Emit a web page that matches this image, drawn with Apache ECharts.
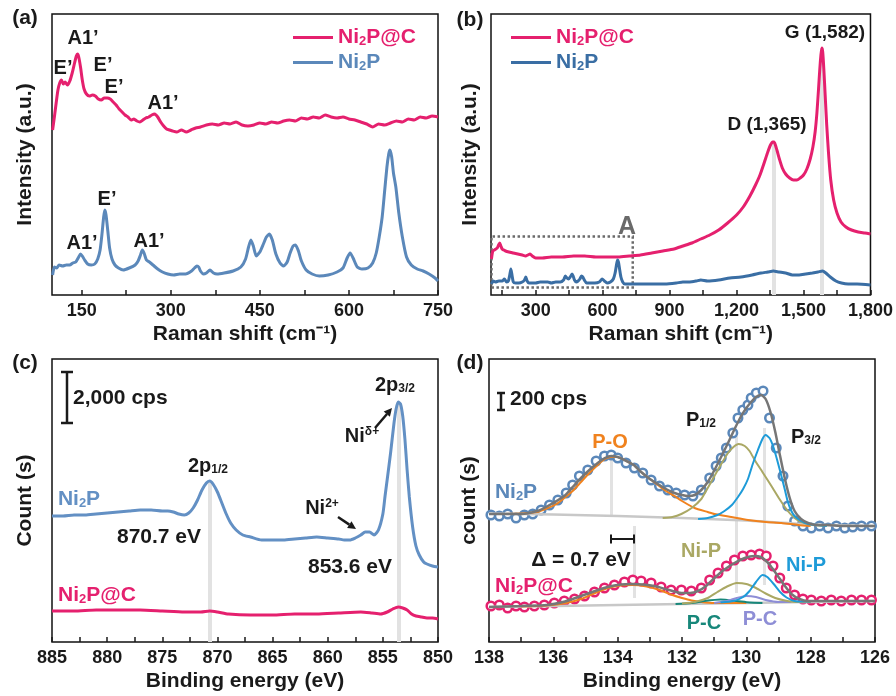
<!DOCTYPE html>
<html>
<head>
<meta charset="utf-8">
<script src="https://cdn.jsdelivr.net/npm/echarts@6/dist/echarts.min.js"></script>
<style>
  html, body { margin: 0; padding: 0; background: #fff; }
  #chart { width: 896px; height: 696px; }
</style>
</head>
<body>
<div id="chart"></div>
<script>
// ---- (a) Raman, 100-750 cm-1 ----
var aPcX = [101,104,107,110,113,116,119,122,126,130,134,138,141,143,145,148,151,154,158,163,168,173,178,183,188,193,198,203,208,213,218,223,228,233,238,243,248,253,258,263,268,273,278,283,288,293,298,303,310,318,326,334,342,350,360,370,380,390,400,410,420,430,440,450,460,470,480,490,500,510,520,530,540,550,560,570,580,590,600,610,620,630,640,650,660,670,680,690,700,710,720,730,740,750];
var aPcY = [165,178,192,205,212,215,211,213,210,214,222,232,239,241,238,228,215,206,201,199,200,199,196,195,197,197,196,193,190,186,183,180,178,175,176,174,173,175,177,178,180,181,178,173,169,166,165,164,163,165,163,165,167,168,170,171,170,172,171,173,170,169,170,172,171,173,172,174,175,174,177,176,178,177,180,178,177,178,176,175,173,171,168,171,170,172,174,173,176,175,178,177,179,178];
var aNpX = [101,104,108,112,118,124,130,135,140,145,148,151,155,160,166,172,177,181,184,187,189,191,194,197,201,206,212,220,230,240,245,249,252,255,259,264,270,278,286,295,305,315,325,335,340,344,347,350,355,360,366,372,378,390,405,418,426,431,435,439,444,450,456,461,466,471,477,484,490,496,501,506,510,515,520,528,538,550,565,580,590,597,602,607,614,622,632,640,646,651,656,660,664,667,669,672,675,679,684,690,697,705,715,725,735,745,750];
var aNpY = [20,28,27,30,29,30,30,32,33,38,41,39,35,31,30,31,36,45,60,78,85,80,64,47,36,30,27,25,27,30,34,40,45,42,35,33,30,26,23,21,20,21,21,24,27,29,28,24,21,22,25,22,21,22,24,28,36,48,55,49,39,43,51,58,61,55,41,32,29,33,42,49,50,44,34,25,21,19,20,23,27,37,42,37,28,26,27,32,42,58,78,103,128,141,145,138,122,108,82,58,38,30,26,24,21,17,14];
var aTicks = [150,225,300,375,450,525,600,675,750];
var aLabels = [150,300,450,600,750];

// ---- (b) Raman, 100-1800 cm-1 ----
var bPcX = [102,108,115,122,128,134,139,144,150,157,165,180,200,220,240,255,265,275,285,300,330,370,420,470,520,570,620,670,720,770,820,870,920,960,1000,1040,1080,1120,1160,1200,1230,1260,1285,1305,1325,1340,1352,1362,1368,1374,1382,1392,1405,1420,1438,1455,1470,1485,1500,1515,1530,1542,1552,1560,1567,1573,1578,1582,1586,1591,1597,1604,1612,1622,1635,1650,1668,1690,1715,1745,1775,1800];
var bPcY = [36,44,45,46,47,50,52,49,46,45,44,43,42,41,40,39,40,41,39,37,37,38,38,39,39,38,38,38,39,40,42,44,46,49,52,56,60,65,72,80,88,99,110,120,133,143,150,153,153,150,144,136,127,121,117,115,115,117,120,126,136,148,163,182,205,226,240,247,243,226,200,170,142,115,95,82,73,68,65,63,62,61];
var bNpX = [102,110,120,135,150,160,170,178,184,189,194,200,210,225,240,250,256,262,270,285,300,320,340,355,370,390,410,425,433,440,447,455,463,468,474,482,490,498,505,511,518,528,545,565,585,598,608,620,635,648,656,662,667,671,676,682,690,700,715,740,780,830,880,930,960,990,1020,1040,1070,1120,1170,1220,1270,1310,1340,1365,1390,1420,1450,1480,1510,1540,1565,1585,1600,1620,1645,1670,1700,1740,1800];
var bNpY = [11,14,13,14,14,16,13,14,20,26,20,13,12,12,13,15,18,14,12,12,12,13,13,13,12,13,13,15,19,17,16,18,21,19,15,13,14,16,19,18,15,12,12,12,13,16,14,12,13,16,22,30,35,33,26,18,13,11,11,11,11,11,11,12,13,13,14,15,14,15,17,18,20,22,23,24,23,22,20,20,21,22,23,24,22,18,14,12,11,11,10];
var bPeaks = [[1365, 153], [1582, 247]];
var bBoxA = [[102, 7.5], [735, 58.5]];
var bTicks = [150,300,450,600,750,900,1050,1200,1350,1500,1650,1800];
var bLabels = [300,600,900,1200,1500,1800];

// ---- (c) Ni 2p XPS ----
var cNpX = [885,884,883,882,881,880,879,878,877,876,875,874.5,874,873.5,873,872.6,872.2,871.8,871.4,871.0,870.7,870.4,870.0,869.6,869.2,868.8,868.3,867.7,867,866,865,864,863,862,861,860,859,858.5,858,857.5,857,856.6,856.2,855.8,855.4,855.0,854.8,854.6,854.3,854.0,853.8,853.6,853.4,853.2,853.0,852.8,852.6,852.3,852.0,851.7,851.3,851,850.5,850];
var cNpY = [126,126,127,127,128,129,130,131,132,132,131,131,130,128,127,129,134,142,152,159,161,158,150,139,128,119,112,107,105,102,102,102,103,104,105,104,103,102,102,104,107,110,110,107,112,128,146,163,189,218,233,240,238,226,203,172,145,115,96,87,80,78,76,75];
var cPcX = [885,883,881,879,877,875,873,871.5,870.7,870,869,867,865,863,861,859,857,856,855.2,854.6,854.1,853.6,853.2,852.8,852.4,852,851.5,851,850.5,850];
var cPcY = [31,31,32,32,32,31,30,30,31,30,28,27,27,28,28,29,30,29,28,30,33,35,34,32,28,26,25,24,24,23];
var cPeaks = [[870.7, 161], [853.6, 240]];
var cTicks = [850,852.5,855,857.5,860,862.5,865,867.5,870,872.5,875,877.5,880,882.5,885];
var cLabels = [850,855,860,865,870,875,880,885];

// ---- (d) P 2p XPS, Ni2P ----
var dNpX = [137.94,137.68,137.42,137.16,136.90,136.64,136.38,136.12,135.86,135.60,135.40,135.19,134.93,134.67,134.41,134.20,134.00,133.74,133.48,133.22,132.96,132.70,132.44,132.18,131.92,131.66,131.40,131.14,130.94,130.78,130.62,130.42,130.26,130.11,129.95,129.85,129.69,129.48,129.28,129.07,128.86,128.71,128.50,128.24,127.98,127.72,127.46,127.20,126.94,126.69,126.42,126.11];
var dNpY = [127,126,128,124,127,128,132,137,142,149,157,166,172,181,186,187,184,179,174,169,162,156,152,149,147,146,152,164,176,184,194,209,224,232,237,244,249,251,224,194,166,136,121,116,114,116,114,116,114,115,116,116];
var dNpFitX = [138.0,137.0,136.5,136.17,135.66,135.4,135.14,134.88,134.62,134.4,134.2,134.0,133.79,133.5,133.27,133.0,132.75,132.5,132.23,132.0,131.82,131.6,131.4,131.2,130.99,130.8,130.57,130.35,130.16,130.0,129.85,129.7,129.54,129.4,129.25,129.1,128.95,128.8,128.65,128.5,128.3,128.08,127.8,127.5,127.0,126.5,126.0];
var dNpFitY = [128,128,131,136,146,155,164,172,179,184,186,185,182,177,170,163,158,153,149,147,146,147,152,160,172,184,199,214,226,234,240,245,247,243,230,210,186,163,144,131,123,119,117,117,116,116,116];
var dNpPoX = [137.5,137.0,136.5,136.17,135.9,135.66,135.4,135.14,134.88,134.62,134.4,134.2,134.0,133.79,133.5,133.27,133.0,132.75,132.5,132.23,132.0,131.61,131.2,130.99,130.47,129.95,129.4,128.91,128.39,128.0];
var dNpPoY = [128,128.5,130,134,138,144,151,160,169,177,183,185,185,182,177,170,163,157,151,146,141,134,130,128,125,122,120,119,117,116];
var dNpHalfX = [132.6,132.3,132.02,131.7,131.4,131.2,130.99,130.78,130.57,130.4,130.24,130.05,129.9,129.74,129.5,129.22,128.97,128.71,128.5,128.29,127.9,127.5];
var dNpHalfY = [124,125,128,134,143,154,166,178,189,195,198,196,191,182,170,156,143,131,124,120,117,116];
var dNpThreeX = [131.5,131.2,130.9,130.68,130.45,130.26,130.1,129.95,129.8,129.64,129.5,129.4,129.28,129.17,129.05,128.91,128.8,128.71,128.6,128.5,128.3,128.08,127.8,127.5];
var dNpThreeY = [123,124,127,131,137,145,153,163,178,192,203,207,204,196,183,166,152,140,131,126,121,118,117,116];
var dNpBgX = [138,136,134,132,130,128,126];
var dNpBgY = [128.5,127.5,126,124,121.5,117.5,116];

// ---- (d) P 2p XPS, Ni2P@C ----
var dPcX = [137.94,137.68,137.42,137.16,136.90,136.59,136.28,135.97,135.66,135.34,135.03,134.72,134.41,134.10,133.79,133.53,133.27,132.96,132.65,132.34,132.02,131.71,131.40,131.14,130.88,130.62,130.37,130.11,129.85,129.59,129.38,129.17,128.96,128.76,128.50,128.24,127.98,127.67,127.36,127.05,126.73,126.42,126.11];
var dPcY = [36,37,34,36,35,36,37,39,41,43,46,50,54,57,60,62,61,59,55,52,52,51,54,62,69,76,82,86,87,88,86,76,64,54,47,43,42,41,42,41,42,42,42];
var dPcFitX = [138.0,137.0,136.2,135.7,135.14,134.7,134.31,133.9,133.58,133.2,132.86,132.4,132.02,131.75,131.5,131.25,130.99,130.7,130.37,130.05,129.75,129.55,129.35,129.2,129.02,128.8,128.6,128.35,128.08,127.5,126.0];
var dPcFitY = [35,36,37,40,46,51,55,57.5,58,57.5,56,52,49,49,51,56,64,72,79,84,86,85,80,74,66,56,48,43,41,41,41];
var dPcPoX = [137.0,136.2,135.6,135.14,134.7,134.3,133.9,133.53,133.1,132.7,132.3,132.0,131.7,131.4,131.0,130.5,130.0];
var dPcPoY = [35.5,36.5,39,43,49,54,56.5,57,55.5,52,47,44,41.5,40,39,39,39];
var dPcHalfX = [132.0,131.6,131.2,130.9,130.6,130.3,130.0,129.7,129.4,129.1,128.8,128.4,128.0];
var dPcHalfY = [38.5,40,44,50,55.5,59,58,54,48.5,44,41.5,40,40];
var dPcThreeX = [130.8,130.4,130.1,129.9,129.7,129.5,129.35,129.15,128.95,128.75,128.5,128.2,128.0];
var dPcThreeY = [39.5,41,45,51,60,67,65,58,50,44.5,41,40.5,40.5];
var dPcPc1X = [132.2,131.7,131.3,130.8,130.3,129.9,129.5];
var dPcPc1Y = [38,39,41,42.5,41,39.5,39];
var dPcPc2X = [131.0,130.6,130.3,130.0,129.7,129.4,129.0,128.6];
var dPcPc2Y = [39,41,44,46,45,42,40,40];
var dPcBgX = [138,134,130,126];
var dPcBgY = [35,37,39,41];
var dRefs = [[134.2, 127, 182], [133.5, 44, 116], [130.3, 49, 206], [129.45, 57, 214]];
var dTicks = [126,127,128,129,130,131,132,133,134,135,136,137,138];
var dLabels = [126,128,130,132,134,136,138];

var FONT = 'Liberation Sans';
var INK = '#1a1a1a';
var PINK = '#e5206e';
var BLUE_A = '#5b88ba';
var BLUE_B = '#3a6ea4';
var BLUE_C = '#6390c4';
var ORANGE = '#f0821e';
var OLIVE = '#aaa864';
var SKY = '#1e9bd8';
var TEAL = '#17877a';
var LAVENDER = '#8e8ed6';

function zip(xs, ys) {
    return xs.map(function (x, i) { return [x, ys[i]]; });
}

function richSet(size) {
    var small = Math.round(size * 0.62);
    return {
        s: { fontSize: small, fontWeight: 'bold', fontFamily: FONT, verticalAlign: 'bottom' },
        u: { fontSize: small, fontWeight: 'bold', fontFamily: FONT, verticalAlign: 'top' }
    };
}

function txt(x, y, text, color, size, align) {
    size = size || 20;
    return {
        type: 'text', x: x, y: y, z: 100, silent: true,
        style: {
            text: text, fill: color || INK, fontSize: size, fontWeight: 'bold', fontFamily: FONT,
            align: align || 'center', verticalAlign: 'middle', rich: richSet(size)
        }
    };
}

function seg(points, width) {
    return { type: 'polyline', z: 100, silent: true, shape: { points: points }, style: { stroke: INK, lineWidth: width || 2.5, fill: null } };
}

function head(points) {
    return { type: 'polygon', z: 100, silent: true, shape: { points: points }, style: { fill: INK } };
}

function xAxisOf(idx, min, max, ticks, labels, name, inverse, fmt) {
    return {
        type: 'value', gridIndex: idx, min: min, max: max, inverse: !!inverse,
        name: name, nameLocation: 'middle', nameGap: 29,
        nameTextStyle: { fontFamily: FONT, fontWeight: 'bold', fontSize: 21, color: INK },
        axisLine: { show: false },
        splitLine: { show: false },
        axisTick: { show: true, inside: true, length: 5, customValues: ticks, lineStyle: { color: INK, width: 1.5 } },
        axisLabel: { show: true, customValues: labels, margin: 7, fontFamily: FONT, fontWeight: 'bold', fontSize: 18, color: INK, formatter: fmt }
    };
}

function yAxisOf(idx, max, name, gap) {
    return {
        type: 'value', gridIndex: idx, min: 0, max: max,
        name: name, nameLocation: 'middle', nameGap: gap, nameRotate: 90,
        nameTextStyle: { fontFamily: FONT, fontWeight: 'bold', fontSize: 21, color: INK },
        axisLine: { show: false }, axisTick: { show: false }, axisLabel: { show: false }, splitLine: { show: false }
    };
}

function curve(name, idx, xs, ys, color, width, z) {
    return {
        name: name, type: 'line', xAxisIndex: idx, yAxisIndex: idx, data: zip(xs, ys),
        showSymbol: false, smooth: 0.2, z: z || 3,
        lineStyle: { color: color, width: width || 3 }, itemStyle: { color: color }
    };
}

// light grey guide lines, kept behind every curve
function refLines(idx, pairs, width) {
    return {
        type: 'line', xAxisIndex: idx, yAxisIndex: idx, data: [], z: 1,
        markLine: {
            z: 1, silent: true, symbol: 'none', animation: false, label: { show: false },
            lineStyle: { color: '#e2e2e2', width: width || 4, type: 'solid' },
            data: pairs.map(function (p) { return [{ coord: [p[0], p[1]] }, { coord: [p[0], p[2]] }]; })
        }
    };
}

function circles(name, idx, xs, ys, color) {
    return {
        name: name, type: 'scatter', xAxisIndex: idx, yAxisIndex: idx, data: zip(xs, ys), z: 2,
        symbol: 'circle', symbolSize: 8.5,
        itemStyle: { color: '#fff', borderColor: color, borderWidth: 2.5, opacity: 1 }
    };
}

function legendAt(left, names, colors) {
    return {
        left: left, top: 22, orient: 'vertical', itemGap: 4, itemWidth: 40, itemHeight: 3, icon: 'rect',
        data: names.map(function (n, i) { return { name: n, textStyle: { color: colors[i] } }; }),
        formatter: function (n) { return n.replace(' (b)', '').replace('2', '{s|2}'); },
        textStyle: { fontFamily: FONT, fontWeight: 'bold', fontSize: 21, rich: richSet(21) }
    };
}

var commaFmt = function (v) {
    return v >= 1000 ? Math.floor(v / 1000) + ',' + String(v % 1000).padStart(3, '0') : String(v);
};

var grids = [
    { left: 52, top: 14, width: 386, height: 281 },
    { left: 491, top: 14, width: 384, height: 281 },
    { left: 52, top: 359, width: 386, height: 283 },
    { left: 489, top: 359, width: 386, height: 283 }
].map(function (g) {
    g.show = true; g.borderColor = '#111'; g.borderWidth = 1.5; g.backgroundColor = 'transparent';
    return g;
});

var bBlue = curve('Ni2P (b)', 1, bNpX, bNpY, BLUE_B, 3);
bBlue.markArea = {
    silent: true, label: { show: false },
    itemStyle: { color: 'rgba(0,0,0,0)', borderColor: '#6a6a6a', borderWidth: 2.5, borderType: 'dotted' },
    data: [[{ coord: bBoxA[0] }, { coord: bBoxA[1] }]]
};

var option = {
    animation: false,
    backgroundColor: '#fff',
    grid: grids,
    legend: [
        legendAt(288, ['Ni2P@C', 'Ni2P'], [PINK, BLUE_A]),
        legendAt(506, ['Ni2P@C (b)', 'Ni2P (b)'], [PINK, BLUE_B])
    ],
    xAxis: [
        xAxisOf(0, 100, 750, aTicks, aLabels, 'Raman shift (cm\u207B\u00B9)'),
        xAxisOf(1, 100, 1800, bTicks, bLabels, 'Raman shift (cm\u207B\u00B9)', false, commaFmt),
        xAxisOf(2, 850, 885, cTicks, cLabels, 'Binding energy (eV)', true),
        xAxisOf(3, 126, 138, dTicks, dLabels, 'Binding energy (eV)', true)
    ],
    yAxis: [
        yAxisOf(0, 281, 'Intensity (a.u.)', 16),
        yAxisOf(1, 281, 'Intensity (a.u.)', 10),
        yAxisOf(2, 283, 'Count (s)', 16),
        yAxisOf(3, 283, 'count (s)', 9)
    ],
    series: [
        curve('Ni2P@C', 0, aPcX, aPcY, PINK, 3),
        curve('Ni2P', 0, aNpX, aNpY, BLUE_A, 3),

        refLines(1, bPeaks.map(function (p) { return [p[0], 0, p[1]]; })),
        curve('Ni2P@C (b)', 1, bPcX, bPcY, PINK, 3),
        bBlue,

        refLines(2, cPeaks.map(function (p) { return [p[0], 0, p[1]]; })),
        curve('c-Ni2P', 2, cNpX, cNpY, BLUE_C, 3),
        curve('c-Ni2P@C', 2, cPcX, cPcY, PINK, 3),

        refLines(3, dRefs, 3),
        circles('d-Ni2P', 3, dNpX, dNpY, BLUE_A),
        circles('d-Ni2P@C', 3, dPcX, dPcY, PINK),
        curve('d-bg1', 3, dNpBgX, dNpBgY, '#c8c8c8', 2.5, 3),
        curve('d-bg2', 3, dPcBgX, dPcBgY, '#c8c8c8', 2.5, 3),
        curve('d-po1', 3, dNpPoX, dNpPoY, ORANGE, 2, 4),
        curve('d-half1', 3, dNpHalfX, dNpHalfY, OLIVE, 2, 4),
        curve('d-three1', 3, dNpThreeX, dNpThreeY, SKY, 2, 4),
        curve('d-po2', 3, dPcPoX, dPcPoY, ORANGE, 2, 4),
        curve('d-pc1', 3, dPcPc1X, dPcPc1Y, TEAL, 2, 4),
        curve('d-pc2', 3, dPcPc2X, dPcPc2Y, LAVENDER, 2, 4),
        curve('d-half2', 3, dPcHalfX, dPcHalfY, OLIVE, 2, 4),
        curve('d-three2', 3, dPcThreeX, dPcThreeY, SKY, 2, 4),
        curve('d-fit1', 3, dNpFitX, dNpFitY, '#767676', 2.5, 5),
        curve('d-fit2', 3, dPcFitX, dPcFitY, '#767676', 2.5, 5)
    ],
    graphic: [
        // panel letters
        txt(25, 18, '(a)', INK, 21), txt(470, 20, '(b)', INK, 21),
        txt(25, 363, '(c)', INK, 21), txt(470, 363, '(d)', INK, 21),

        // (a) mode labels
        txt(63, 68, 'E\u2019'), txt(83, 38, 'A1\u2019'), txt(103, 65, 'E\u2019'),
        txt(114, 87, 'E\u2019'), txt(163, 103, 'A1\u2019'),
        txt(82, 243, 'A1\u2019'), txt(107, 199, 'E\u2019'), txt(149, 241, 'A1\u2019'),

        // (b)
        txt(825, 33, 'G (1,582)', INK, 19), txt(767, 125, 'D (1,365)', INK, 19),
        txt(627, 227, 'A', '#6a6a6a', 25),

        // (c)
        seg([[61, 372], [73, 372]]), seg([[67, 372], [67, 423]]), seg([[61, 423], [73, 423]]),
        txt(73, 398, '2,000 cps', INK, 21, 'left'),
        txt(395, 385, '2p{s|3/2}', INK, 20),
        txt(362, 436, 'Ni{u|\u03B4+}', INK, 20),
        seg([[375, 428], [387, 414]]), head([[392, 408], [389.9, 416.7], [383.7, 411.5]]),
        txt(208, 466, '2p{s|1/2}', INK, 20),
        txt(322, 508, 'Ni{u|2+}', INK, 20),
        seg([[338, 517], [349.3, 524.6]]), head([[356, 529], [347.1, 527.9], [351.5, 521.3]]),
        txt(159, 537, '870.7 eV', INK, 21), txt(350, 567, '853.6 eV', INK, 21),
        txt(79, 499, 'Ni{s|2}P', BLUE_C, 21), txt(97, 595, 'Ni{s|2}P@C', PINK, 21),

        // (d)
        seg([[497, 393], [505, 393]]), seg([[501, 393], [501, 410]]), seg([[497, 410], [505, 410]]),
        txt(510, 399, '200 cps', INK, 21, 'left'),
        txt(610, 442, 'P-O', ORANGE, 20),
        txt(701, 420, 'P{s|1/2}', INK, 20), txt(806, 437, 'P{s|3/2}', INK, 20),
        txt(516, 492, 'Ni{s|2}P', BLUE_A, 21),
        seg([[611, 539], [634, 539]], 2), seg([[611, 534.5], [611, 543.5]], 2), seg([[634, 534.5], [634, 543.5]], 2),
        txt(581, 560, '\u0394 = 0.7 eV', INK, 21),
        txt(701, 551, 'Ni-P', OLIVE, 20), txt(806, 565, 'Ni-P', SKY, 20),
        txt(534, 586, 'Ni{s|2}P@C', PINK, 21),
        txt(704, 623, 'P-C', TEAL, 20), txt(760, 619, 'P-C', LAVENDER, 20)
    ]
};

var chart = echarts.init(document.getElementById('chart'), null, { renderer: 'canvas' });
chart.setOption(option);
</script>
</body>
</html>
